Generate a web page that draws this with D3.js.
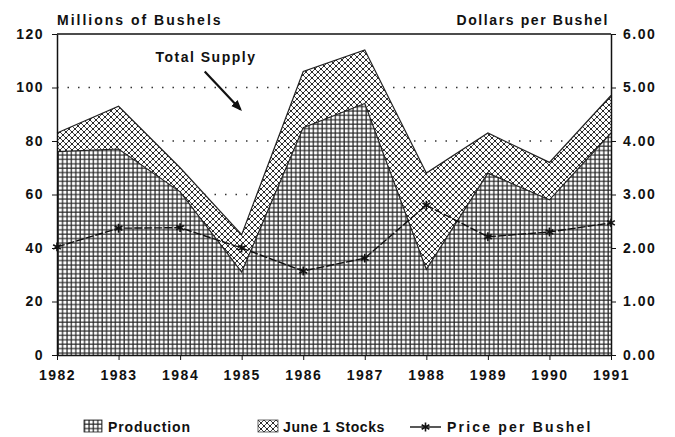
<!DOCTYPE html>
<html>
<head>
<meta charset="utf-8" />
<script src="https://d3js.org/d3.v7.min.js"></script>
<style>
  body { margin: 0; background: #fff; }
  text { font-family: "Liberation Sans", Arial, sans-serif; font-weight: bold; fill: #111; }
  .axis text { font-size: 14px; letter-spacing: 1.5px; }
  .axis line, .axis path { stroke: #111; }
</style>
</head>
<body>
<svg id="chart" width="675" height="437"></svg>
<script>
// data
var years = [1982, 1983, 1984, 1985, 1986, 1987, 1988, 1989, 1990, 1991];
var production = [76, 77, 61, 31, 85, 94, 32, 68, 58, 83];
var juneStocks = [7, 16, 9, 14, 21, 20, 36, 15, 14, 14];
var price = [2.02, 2.37, 2.38, 2.00, 1.57, 1.81, 2.80, 2.21, 2.30, 2.47];
var leftTicks = [0, 20, 40, 60, 80, 100, 120];
var rightTicks = [0, 1, 2, 3, 4, 5, 6];

var margin = {top: 34, right: 64, bottom: 82, left: 57};
var width = 675, height = 437;

var svg = d3.select("#chart");

var x = d3.scaleLinear()
  .domain([years[0], years[years.length - 1]])
  .range([margin.left, width - margin.right]);
var y = d3.scaleLinear().domain([0, 120]).range([height - margin.bottom, margin.top]);
var y2 = d3.scaleLinear().domain([0, 6]).range([height - margin.bottom, margin.top]);

// patterns
var defs = svg.append("defs");
var grid = defs.append("pattern")
  .attr("id", "gridPat").attr("patternUnits", "userSpaceOnUse")
  .attr("width", 4.4).attr("height", 4.4);
grid.append("rect").attr("width", 4.4).attr("height", 4.4).attr("fill", "#fff");
grid.append("path").attr("d", "M1,0V4.4M0,1H4.4")
  .attr("stroke", "#222").attr("stroke-width", 1.2);

var hatch = defs.append("pattern")
  .attr("id", "hatchPat").attr("patternUnits", "userSpaceOnUse")
  .attr("width", 6).attr("height", 6);
hatch.append("rect").attr("width", 6).attr("height", 6).attr("fill", "#fff");
hatch.append("path").attr("d", "M0,0L6,6M6,0L0,6")
  .attr("stroke", "#333").attr("stroke-width", 0.9);
hatch.selectAll("circle").data([[0, 0], [6, 0], [0, 6], [6, 6], [3, 3]])
  .enter().append("circle")
  .attr("cx", function(d) { return d[0]; })
  .attr("cy", function(d) { return d[1]; })
  .attr("r", 1.1).attr("fill", "#222");

// dotted gridlines
svg.append("g").selectAll("line")
  .data(leftTicks.slice(1, -1))
  .enter().append("line")
  .attr("x1", margin.left).attr("x2", width - margin.right)
  .attr("y1", function(d) { return y(d); })
  .attr("y2", function(d) { return y(d); })
  .attr("stroke", "#333").attr("stroke-width", 1.5)
  .attr("stroke-dasharray", "1.5,9");

// stacked areas
var rows = years.map(function(yr, i) {
  return {year: yr, production: production[i], stocks: juneStocks[i]};
});
var stack = d3.stack().keys(["production", "stocks"])(rows);
var fills = ["url(#gridPat)", "url(#hatchPat)"];

var area = d3.area()
  .x(function(d) { return x(d.data.year); })
  .y0(function(d) { return y(d[0]); })
  .y1(function(d) { return y(d[1]); });
var topLine = d3.line()
  .x(function(d) { return x(d.data.year); })
  .y(function(d) { return y(d[1]); });

svg.append("g").selectAll("path.area")
  .data(stack).enter().append("path")
  .attr("class", "area")
  .attr("d", area)
  .attr("fill", function(d, i) { return fills[i]; });

svg.append("g").selectAll("path.edge")
  .data(stack).enter().append("path")
  .attr("class", "edge")
  .attr("d", topLine)
  .attr("fill", "none").attr("stroke", "#222").attr("stroke-width", 1.2);

// price line
var priceLine = d3.line()
  .x(function(d, i) { return x(years[i]); })
  .y(function(d) { return y2(d); });
svg.append("path")
  .datum(price)
  .attr("d", priceLine)
  .attr("fill", "none").attr("stroke", "#111").attr("stroke-width", 1.4)
  .attr("stroke-dasharray", "8,2");

var star = d3.symbol().type(d3.symbolAsterisk).size(55);
svg.append("g").selectAll("path")
  .data(price).enter().append("path")
  .attr("d", star)
  .attr("transform", function(d, i) { return "translate(" + x(years[i]) + "," + y2(d) + ")"; })
  .attr("fill", "none").attr("stroke", "#111").attr("stroke-width", 1.6);

// axes
svg.append("g")
  .attr("class", "axis")
  .attr("transform", "translate(" + margin.left + ",0)")
  .call(d3.axisLeft(y).tickValues(leftTicks).tickSize(5).tickSizeOuter(0).tickPadding(8))
  .call(function(g) { g.select(".domain").attr("stroke-width", 1.5); });

svg.append("g")
  .attr("class", "axis")
  .attr("transform", "translate(" + (width - margin.right) + ",0)")
  .call(d3.axisRight(y2).tickValues(rightTicks).tickSize(5).tickSizeOuter(0).tickPadding(7)
    .tickFormat(d3.format(".2f")))
  .call(function(g) { g.select(".domain").attr("stroke-width", 1.5); });

svg.append("g")
  .attr("class", "axis")
  .attr("transform", "translate(0," + (height - margin.bottom) + ")")
  .call(d3.axisBottom(x).tickValues(years).tickSize(5).tickSizeOuter(0).tickPadding(10)
    .tickFormat(d3.format("d")))
  .call(function(g) { g.select(".domain").attr("stroke-width", 1.5); });

// top border
svg.append("line")
  .attr("x1", margin.left).attr("x2", width - margin.right)
  .attr("y1", y(120)).attr("y2", y(120))
  .attr("stroke", "#111").attr("stroke-width", 1.5);

// axis titles
svg.append("text")
  .attr("x", margin.left).attr("y", 25)
  .attr("font-size", 14).attr("letter-spacing", 2)
  .text("Millions of Bushels");
svg.append("text")
  .attr("x", width - margin.right - 2).attr("y", 25)
  .attr("text-anchor", "end")
  .attr("font-size", 14).attr("letter-spacing", 1.6)
  .text("Dollars per Bushel");

// annotation
svg.append("text")
  .attr("x", x(1984.42)).attr("y", y(109.5))
  .attr("text-anchor", "middle")
  .attr("font-size", 14).attr("letter-spacing", 1.5)
  .text("Total Supply");
defs.append("marker")
  .attr("id", "arrow").attr("viewBox", "0 0 10 10")
  .attr("refX", 8).attr("refY", 5)
  .attr("markerWidth", 5).attr("markerHeight", 5)
  .attr("orient", "auto")
  .append("path").attr("d", "M0,1L10,5L0,9Z").attr("fill", "#111");
svg.append("line")
  .attr("x1", x(1984.4)).attr("y1", y(106))
  .attr("x2", x(1984.98)).attr("y2", y(91.8))
  .attr("stroke", "#111").attr("stroke-width", 2.2)
  .attr("marker-end", "url(#arrow)");

// legend
var legend = svg.append("g").attr("transform", "translate(0,432)");
legend.append("rect").attr("x", 84).attr("y", -12).attr("width", 18).attr("height", 12)
  .attr("fill", "url(#gridPat)").attr("stroke", "#222").attr("stroke-width", 0.8);
legend.append("text").attr("x", 108).attr("y", 0)
  .attr("font-size", 14).attr("letter-spacing", 0.9).text("Production");
legend.append("rect").attr("x", 258).attr("y", -12).attr("width", 20).attr("height", 12)
  .attr("fill", "url(#hatchPat)").attr("stroke", "#444").attr("stroke-width", 0.8);
legend.append("text").attr("x", 283).attr("y", 0)
  .attr("font-size", 14).attr("letter-spacing", 0.6).text("June 1 Stocks");
legend.append("line").attr("x1", 410).attr("x2", 441).attr("y1", -5).attr("y2", -5)
  .attr("stroke", "#111").attr("stroke-width", 1.4);
legend.append("path").attr("d", star)
  .attr("transform", "translate(425.5,-5)")
  .attr("fill", "none").attr("stroke", "#111").attr("stroke-width", 1.6);
legend.append("text").attr("x", 447).attr("y", 0)
  .attr("font-size", 14).attr("letter-spacing", 2.2).text("Price per Bushel");
</script>
</body>
</html>
